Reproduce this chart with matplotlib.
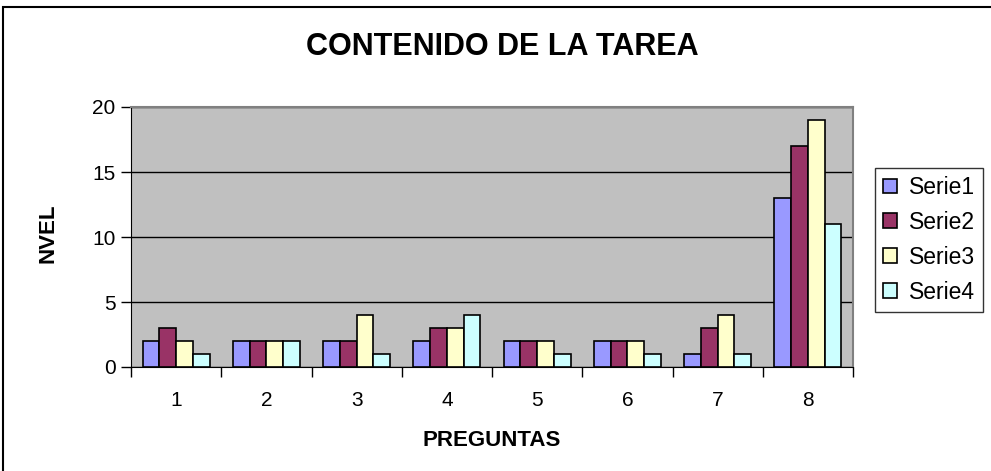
import numpy as np
import matplotlib.pyplot as plt
from matplotlib.patches import Rectangle

categories = ['1', '2', '3', '4', '5', '6', '7', '8']
serie1 = [2, 2, 2, 2, 2, 2, 1, 13]
serie2 = [3, 2, 2, 3, 2, 2, 3, 17]
serie3 = [2, 2, 4, 3, 2, 2, 4, 19]
serie4 = [1, 2, 1, 4, 1, 1, 1, 11]
series_names = ['Serie1', 'Serie2', 'Serie3', 'Serie4']
colors = ['#9999FF', '#993366', '#FFFFCC', '#CCFFFF']

plt.rcParams['font.family'] = ['Liberation Sans', 'DejaVu Sans']

fig = plt.figure(figsize=(9.91, 4.71), dpi=100)
W, H = 991, 471

# outer chart border (cropped on right/bottom)
fig.patches.append(Rectangle((3 / W, -0.1), 1.2, (H - 7) / H + 0.1, transform=fig.transFigure,
                             fill=False, edgecolor='black', linewidth=1.5))

ax = fig.add_axes([131 / W, 1 - 367 / H, (853 - 131) / W, (367 - 107) / H])
ax.set_facecolor('#C0C0C0')

x = np.arange(len(categories))
bw = 0.185
for i, (vals, name, c) in enumerate(zip([serie1, serie2, serie3, serie4], series_names, colors)):
    ax.bar(x + (i - 1.5) * bw, vals, width=bw, color=c, edgecolor='black', linewidth=1.2,
           label=name, zorder=3)

ax.set_xlim(-0.5, len(categories) - 0.5)
ax.set_ylim(0, 20)
ax.set_yticks([0, 5, 10, 15, 20])
ax.yaxis.grid(True, color='black', linewidth=1, zorder=1)
ax.set_axisbelow(True)

ax.set_xticks(x)
ax.set_xticklabels(categories, fontsize=15)
ax.set_xticks(np.arange(-0.5, len(categories), 1), minor=True)
ax.tick_params(axis='x', which='major', length=0, pad=17)
ax.tick_params(axis='x', which='minor', length=7, width=1, direction='out')
ax.tick_params(axis='y', length=7, width=1, direction='out', labelsize=15, pad=4)

for side in ['top', 'right']:
    ax.spines[side].set_color('#808080')
    ax.spines[side].set_linewidth(1.5)
ax.spines['left'].set_color('black')
ax.spines['bottom'].set_color('black')

fig.text(502 / W, 1 - 47 / H, 'CONTENIDO DE LA TAREA', ha='center', va='center',
         fontsize=22, fontweight='bold')
fig.text(492 / W, 1 - 440 / H, 'PREGUNTAS', ha='center', va='center',
         fontsize=16, fontweight='bold')
fig.text(48 / W, 1 - 233 / H, 'NVEL', ha='center', va='center', rotation=90,
         fontsize=16, fontweight='bold')

leg = fig.legend(loc='upper left', bbox_to_anchor=(875 / W, 1 - 168 / H), fontsize=16.5,
                 frameon=True, fancybox=False, edgecolor='black', handlelength=0.62,
                 handleheight=0.62, handletextpad=0.5, labelspacing=0.52, borderpad=0.35,
                 borderaxespad=0)
leg.get_frame().set_linewidth(1)

fig.savefig('out.png', dpi=100)
